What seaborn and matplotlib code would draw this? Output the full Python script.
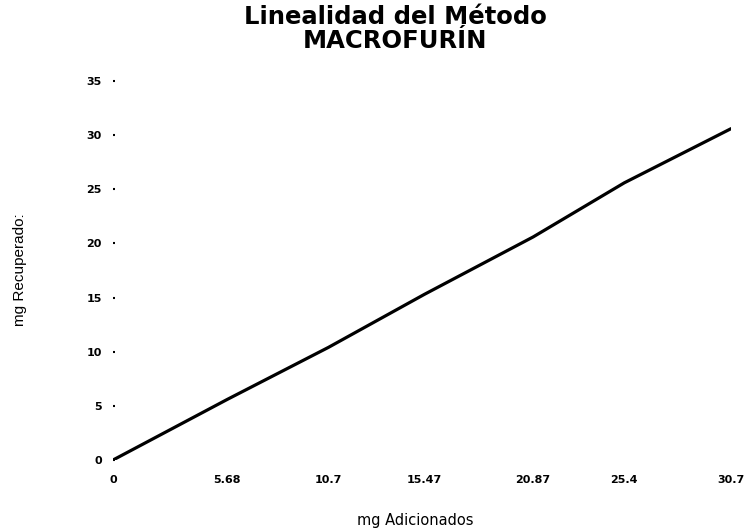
import matplotlib
matplotlib.use("Agg")
import matplotlib.pyplot as plt
import seaborn as sns
import pandas as pd

# Linearity data: amount added vs. amount recovered (mg)
mg_adicionados = [0, 5.68, 10.7, 15.47, 20.87, 25.4, 30.7]
mg_recuperados = [0, 5.6, 10.4, 15.3, 20.6, 25.6, 30.6]
x_tick_labels = ["0", "5.68", "10.7", "15.47", "20.87", "25.4", "30.7"]
y_ticks = [0, 5, 10, 15, 20, 25, 30, 35]

sns.set_style("white")
plt.rcParams["font.family"] = ["DejaVu Sans"]
plt.rcParams["text.color"] = "black"
plt.rcParams["xtick.color"] = "black"
plt.rcParams["ytick.color"] = "black"

df = pd.DataFrame({"adicionado": mg_adicionados, "recuperado": mg_recuperados})

fig = plt.figure(figsize=(7.46, 5.31), dpi=100)
ax = fig.add_axes([0.1515, 0.1337, 0.8284, 0.7137])

sns.lineplot(data=df, x="adicionado", y="recuperado", ax=ax,
             color="black", linewidth=2.3, solid_capstyle="round")

ax.set_xlim(0, 30.7)
ax.set_ylim(0, 35)
ax.set_xticks(mg_adicionados)
ax.set_xticklabels(x_tick_labels, fontsize=8, fontweight="bold")
ax.set_yticks(y_ticks)
ax.set_yticklabels([str(v) for v in y_ticks], fontsize=8, fontweight="bold")
# tiny inward ticks that read as dots beside each value
ax.tick_params(axis="y", left=True, direction="in", length=1.5, width=1.5,
               pad=8, color="black")
ax.tick_params(axis="x", bottom=False, length=0, pad=11)

for s in ax.spines.values():
    s.set_visible(False)

ax.set_xlabel("")
ax.set_ylabel("")

fig.text(395 / 746, 1 - 29 / 531, "Linealidad del Método\nMACROFURÍN",
         ha="center", va="center", fontsize=17.5, fontweight="bold",
         linespacing=0.95)
fig.text(415 / 746, 1 - 521 / 531, "mg Adicionados", ha="center", va="center",
         fontsize=10.5)
fig.text(20 / 746, 1 - 270 / 531, "mg Recuperado:", ha="center", va="center",
         rotation=90, fontsize=11,
         family=["Liberation Sans Narrow", "Liberation Sans", "DejaVu Sans"])

fig.savefig("out.png", dpi=100, facecolor="white")
